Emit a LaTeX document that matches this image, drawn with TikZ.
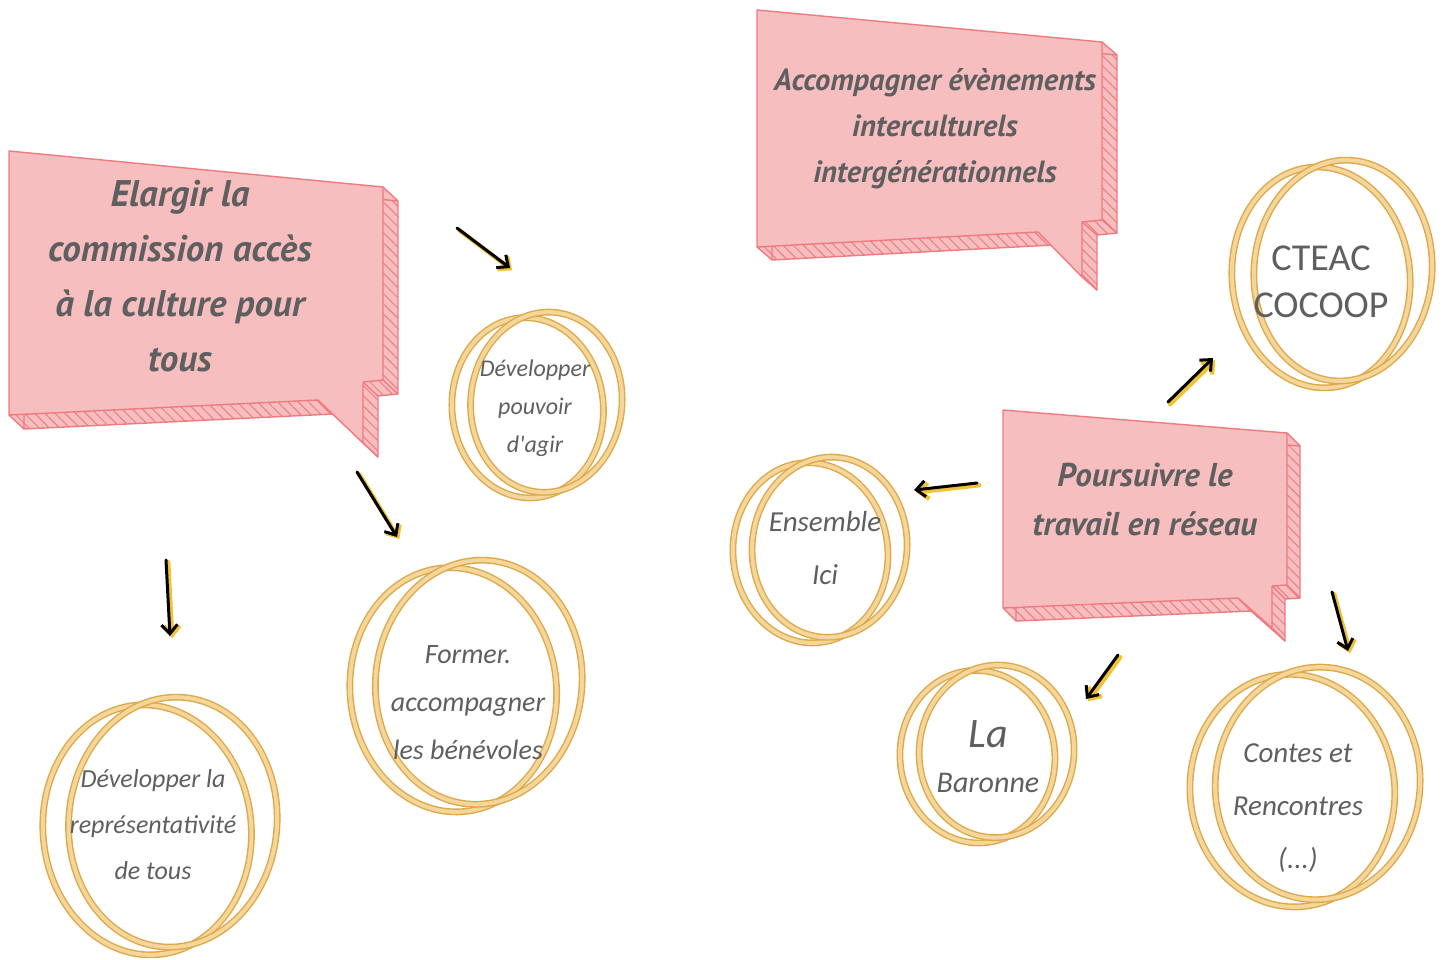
\documentclass[tikz,border=0pt]{standalone}
\usepackage{fontspec}
\newfontfamily\bubfont{PT Sans}
\newfontfamily\handfont{Carlito}
\usetikzlibrary{calc,arrows.meta,patterns.meta}
\definecolor{bubfill}{HTML}{F7BEC0}
\definecolor{bubedge}{HTML}{EF7A80}
\definecolor{textgray}{HTML}{5F5F5F}
\definecolor{ringdark}{HTML}{DDA84A}
\definecolor{ringlight}{HTML}{F4D69A}
\definecolor{arrowyellow}{HTML}{F2C230}
\pgfdeclarelayer{bg}
\pgfsetlayers{bg,main}
\tikzset{
  hatch/.style={preaction={fill=bubfill},
    pattern={Lines[angle=-45,distance=3.6pt,line width=0.5pt]}, pattern color=bubedge},
  bubback/.style={draw=bubedge, line width=0.7pt, line join=round, hatch},
  bubfront/.style={draw=bubedge, line width=0.7pt, fill=bubfill, line join=round},
  bubedges/.style={draw=bubedge, line width=0.7pt},
  bubtext/.style={text=textgray, align=center, inner sep=0pt},
  hand/.style={text=textgray, align=center, inner sep=0pt},
  ring/.style={draw=ringdark, line width=0.7pt, double=ringlight, double distance=2pt},
  arr/.style={draw=black, line width=1.5pt, line cap=round,
    -{Straight Barb[length=4.5pt,width=8pt,line width=1.5pt]}},
  arrsh/.style={draw=arrowyellow, line width=2.2pt, line cap=round,
    -{Straight Barb[length=4.5pt,width=8pt,line width=2.2pt]},
    transform canvas={xshift=1.1pt,yshift=-1.1pt}},
}
\newcommand\speech[8]{%
  \fill[bubfill] (#1) -- (#2) -- ($(#2)+(#8)$) -- ($(#1)+(#8)$) -- cycle;
  \fill[hatch] (#1) -- (#7) -- ($(#7)+(#8)$) -- ($(#1)+(#8)$) -- cycle;
  \draw[bubback] ($(#1)+(#8)$) -- ($(#2)+(#8)$) -- ($(#3)+(#8)$) -- ($(#4)+(#8)$)
     -- ($(#5)+(#8)$) -- ($(#6)+(#8)$) -- ($(#7)+(#8)$) -- cycle;
  \draw[bubfront] (#1) -- (#2) -- (#3) -- (#4) -- (#5) -- (#6) -- (#7) -- cycle;
  \draw[bubedges] (#2) -- ++(#8) (#3) -- ++(#8) (#4) -- ++(#8) (#5) -- ++(#8) (#7) -- ++(#8);
}
\newcommand\rings[3]{%
  \draw[ring] ($(#1)+({-0.11*#2},{0.03*#3})$) ellipse [x radius={0.89*#2}, y radius={0.97*#3}, rotate=5];
  \draw[ring] ($(#1)+({0.11*#2},{-0.03*#3})$) ellipse [x radius={0.89*#2}, y radius={0.97*#3}, rotate=-5];
}
\begin{document}
\begin{tikzpicture}[x=0.5pt,y=-0.5pt]
\begin{pgfonlayer}{bg}
\fill[white] (0,0) rectangle (1443,959);
\end{pgfonlayer}
\useasboundingbox (0,0) rectangle (1443,959);

% speech bubbles
\speech{9,151}{383,187}{383,380}{363,382}{363,443}{318,400}{9,415}{15,14}
\speech{757,10}{1102,42}{1102,220}{1082,222}{1082,277}{1038,232}{757,247}{15,13}
\speech{1003,410}{1287,433}{1287,585}{1272,586}{1272,628}{1238,598}{1003,608}{13,13}

\node[bubtext, font={\bubfont\bfseries\itshape\fontsize{18.5}{27.5}\selectfont}] (b1) at (180,276)
  {Elargir la\\commission accès\\à la culture pour\\tous};
\node[bubtext, font={\bubfont\bfseries\itshape\fontsize{15.3}{23}\selectfont}] (b2) at (935,129)
  {Accompagner évènements\\interculturels\\intergénérationnels};
\node[bubtext, font={\bubfont\bfseries\itshape\fontsize{16.5}{24.5}\selectfont}] (b3) at (1145,499)
  {Poursuivre le\\travail en réseau};

% circle texts
\node[hand, font={\handfont\itshape\fontsize{12}{19}\selectfont}] (c1) at (535,408) {Développer\\pouvoir\\d'agir};
\node[hand, font={\handfont\itshape\fontsize{14}{24}\selectfont}] (c2) at (468,703) {Former.\\accompagner\\les bénévoles};
\node[hand, font={\handfont\itshape\fontsize{13}{23}\selectfont}] (c3) at (153,825) {Développer la\\représentativité\\de tous};
\node[hand, font={\handfont\fontsize{19}{23.5}\selectfont}] (c4) at (1321,282) {CTEAC\\COCOOP};
\node[hand, font={\handfont\itshape\fontsize{14.5}{26.5}\selectfont}] (c5) at (825,548) {Ensemble\\Ici};
\node[hand, font={\handfont\itshape\fontsize{15}{22.5}\selectfont}] (c6) at (988,757) {{\fontsize{21}{22.5}\selectfont La}\\Baronne};
\node[hand, font={\handfont\itshape\fontsize{14.5}{26.5}\selectfont}] (c7) at (1298,808) {Contes et\\Rencontres\\(...)};

\begin{pgfonlayer}{bg}
\rings{537,405}{85}{93}
\rings{466,686}{116}{126}
\rings{160,826}{117}{129}
\rings{1332,274}{100}{114}
\rings{820,550}{87}{93}
\rings{987,754}{87}{89}
\rings{1305,787}{115}{120}
\end{pgfonlayer}

% arrows
\coordinate (a1s) at (457,228); \coordinate (a1e) at (510,268);
\coordinate (a2s) at (357,472); \coordinate (a2e) at (397,537);
\coordinate (a3s) at (166,560); \coordinate (a3e) at (170,636);
\coordinate (a4s) at (1168,402); \coordinate (a4e) at (1213,358);
\coordinate (a5s) at (977,483); \coordinate (a5e) at (914,490);
\coordinate (a6s) at (1118,655); \coordinate (a6e) at (1086,699);
\coordinate (a7s) at (1332,592); \coordinate (a7e) at (1348,651);
\foreach \i in {1,...,7}{
  \draw[arrsh] (a\i s) -- (a\i e);
  \draw[arr] (a\i s) -- (a\i e);
}
\end{tikzpicture}
\end{document}
